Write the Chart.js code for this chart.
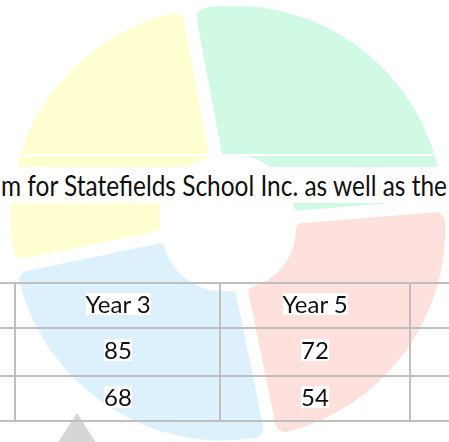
<!DOCTYPE html>
<html>
<head>
<meta charset="utf-8">
<script src="https://cdn.jsdelivr.net/npm/chart.js@4/dist/chart.umd.min.js"></script>
<style>
  html, body { margin: 0; padding: 0; background: #fff; }
  body { width: 449px; height: 442px; overflow: hidden; position: relative; font-family: Lato, "Noto Sans", sans-serif; color: #111; }
  #wrap { position: absolute; left: 0; top: 0; width: 456px; height: 446px; }
  .abs { position: absolute; }
  .rule { position: absolute; background: #bfbfbf; }
  .band { position: absolute; left: 0; top: 167px; width: 449px; height: 36px; background: #fff; line-height: 36px; font-size: 28px; white-space: nowrap; }
  .band span { display: inline-block; transform-origin: 0 0; margin-left: 1px; }
  .cell { position: absolute; height: 22px; line-height: 22px; font-size: 24px; background: #fff; white-space: nowrap; }
</style>
</head>
<body>
<div id="wrap"><canvas id="pieChart" width="456" height="446"></canvas></div>

<div class="abs" style="left:0;top:154px;width:449px;height:2px;background:#fff"></div>
<div class="band"><span id="line">m for Statefields School Inc. as well as the</span></div>

<div class="abs" style="left:40px;top:413px;width:74px;height:58px;background:#d6d6d6;clip-path:polygon(50% 0,100% 100%,0 100%)"></div>

<div id="table"></div>

<script>
// slice sizes (share of the circle)
var labels = ['Green', 'Red', 'Blue', 'Yellow'];
var values = [96, 83, 90, 91];
var colors = ['#d1fae5', '#fee0dc', '#ddf1fc', '#fffed0'];

// table beneath the chart
var headers = ['Year 3', 'Year 5'];
var row1 = ['85', '72'];
var row2 = ['68', '54'];

var ctx = document.getElementById('pieChart').getContext('2d');
var pie = new Chart(ctx, {
    type: 'doughnut',
    data: {
        labels: labels,
        datasets: [{
            data: values,
            backgroundColor: colors,
            borderWidth: 0,
            offset: 36,
            hoverOffset: 0,
            borderRadius: { outerStart: 10, outerEnd: 10, innerStart: 5, innerEnd: 5 }
        }]
    },
    options: {
        responsive: false,
        animation: false,
        rotation: -10.6,
        radius: 210,
        cutout: '29%',
        plugins: {
            legend: { display: false },
            tooltip: { enabled: false }
        }
    }
});

// table grid
var table = document.getElementById('table');
var hLines = [282, 327, 375, 420];
var vLines = [14, 219, 409];
hLines.forEach(function (y) {
    var d = document.createElement('div');
    d.className = 'rule';
    d.style.cssText = 'left:0;width:449px;top:' + y + 'px;height:2px';
    table.appendChild(d);
});
vLines.forEach(function (x) {
    var d = document.createElement('div');
    d.className = 'rule';
    d.style.cssText = 'top:282px;height:140px;left:' + x + 'px;width:2px';
    table.appendChild(d);
});

var colCenters = [118, 315];
var rowTops = [293, 339, 386];
[headers, row1, row2].forEach(function (row, r) {
    row.forEach(function (txt, c) {
        var s = document.createElement('div');
        s.className = 'cell';
        s.textContent = txt;
        s.style.top = rowTops[r] + 'px';
        table.appendChild(s);
        s.style.left = (colCenters[c] - s.offsetWidth / 2) + 'px';
    });
});

function fitLine() {
    var el = document.getElementById('line');
    el.style.transform = 'none';
    var w = el.getBoundingClientRect().width;
    el.style.transform = 'scaleX(' + (446 / w) + ')';
}
fitLine();
if (document.fonts) document.fonts.ready.then(fitLine);
</script>
</body>
</html>
